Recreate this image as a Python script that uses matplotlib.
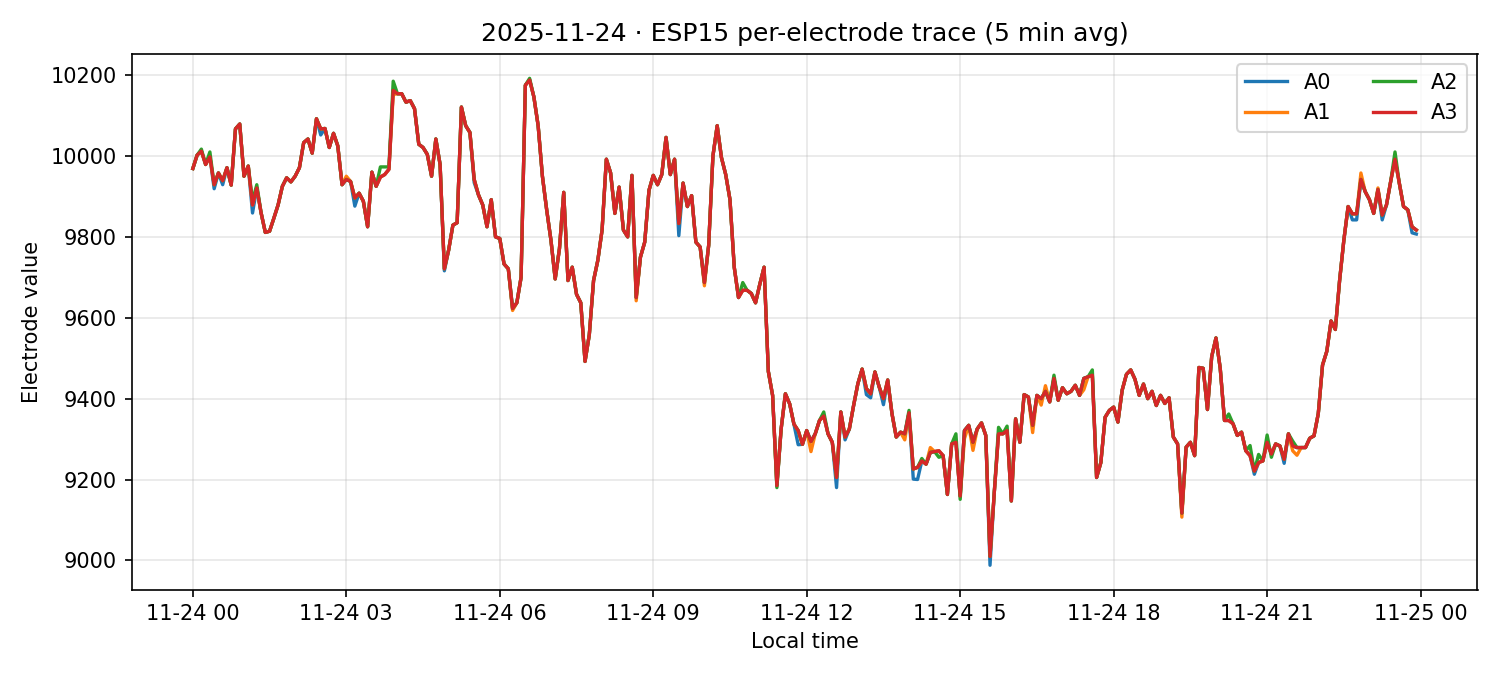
import numpy as np
import pandas as pd
import matplotlib
matplotlib.use("Agg")
import matplotlib.pyplot as plt
import matplotlib.dates as mdates

day = "2025-11-24"
device = "ESP15"
channels = ["A0", "A1", "A2", "A3"]

# A3 trace, one value per 5 min bucket (00:00 .. 23:55)
a3 = [
    9969, 10002, 10012, 9979, 9998, 9929, 9958, 9939, 9971, 9928,
    10067, 10079, 9950, 9975, 9879, 9921, 9860, 9811, 9814, 9846,
    9879, 9925, 9946, 9936, 9950, 9971, 10033, 10042, 10007, 10092,
    10067, 10068, 10021, 10056, 10025, 9929, 9942, 9937, 9896, 9908,
    9888, 9825, 9960, 9925, 9948, 9954, 9967, 10162, 10154, 10154,
    10133, 10137, 10117, 10029, 10021, 10004, 9950, 10042, 9979, 9721,
    9767, 9829, 9835, 10121, 10075, 10058, 9942, 9904, 9879, 9825,
    9892, 9800, 9796, 9733, 9721, 9623, 9637, 9700, 10175, 10188,
    10146, 10075, 9950, 9867, 9792, 9696, 9771, 9910, 9692, 9725,
    9658, 9637, 9492, 9558, 9692, 9742, 9817, 9992, 9958, 9858,
    9923, 9817, 9800, 9952, 9650, 9750, 9787, 9915, 9952, 9929,
    9954, 10046, 9954, 9992, 9833, 9933, 9875, 9902, 9787, 9775,
    9687, 9779, 10000, 10075, 9996, 9954, 9892, 9725, 9650, 9668,
    9668, 9660, 9637, 9683, 9725, 9467, 9408, 9185, 9325, 9412,
    9387, 9337, 9321, 9287, 9321, 9294, 9313, 9346, 9357, 9313,
    9292, 9205, 9367, 9305, 9325, 9383, 9437, 9473, 9425, 9412,
    9466, 9429, 9400, 9446, 9363, 9305, 9317, 9313, 9365, 9226,
    9230, 9246, 9238, 9267, 9269, 9271, 9259, 9163, 9288, 9292,
    9159, 9321, 9334, 9292, 9325, 9340, 9309, 9010, 9168, 9313,
    9313, 9321, 9147, 9350, 9292, 9410, 9404, 9334, 9408, 9400,
    9418, 9392, 9450, 9396, 9427, 9412, 9418, 9433, 9408, 9450,
    9454, 9458, 9205, 9242, 9354, 9371, 9379, 9342, 9421, 9460,
    9471, 9448, 9408, 9436, 9400, 9418, 9383, 9408, 9388, 9402,
    9305, 9288, 9117, 9280, 9292, 9259, 9477, 9475, 9373, 9504,
    9550, 9475, 9346, 9346, 9338, 9309, 9317, 9271, 9259, 9221,
    9242, 9246, 9292, 9263, 9288, 9283, 9250, 9313, 9283, 9279,
    9279, 9279, 9302, 9308, 9363, 9483, 9517, 9592, 9571, 9692,
    9792, 9875, 9857, 9857, 9942, 9912, 9892, 9858, 9917, 9854,
    9879, 9938, 9992, 9933, 9875, 9867, 9825, 9817,
]

# where the other electrodes visibly leave the A3 trace: {bucket: difference}
a0_diff = {5: -10, 7: -10, 14: -20, 30: -15, 38: -20, 59: -5, 66: -8, 114: -30,
           142: -35, 151: -25, 153: -7, 158: -15, 159: -10, 162: -15, 169: -25,
           170: -30, 187: -22, 249: -8, 256: -10, 272: -15, 273: -15, 279: -12,
           286: -15, 287: -10}
a1_diff = {36: 8, 47: -10, 75: -5, 104: -8, 120: -8, 145: -25, 167: -15, 173: 12,
           181: -20, 183: -20, 197: -18, 199: -16, 200: 14, 209: -28, 232: -10,
           258: -12, 259: -19, 274: 16, 278: 4}
a2_diff = {2: 5, 4: 12, 14: 10, 15: 8, 44: 25, 45: 19, 46: 6, 47: 23, 79: 4,
           129: 19, 137: -5, 148: 10, 168: 6, 171: 6, 175: -16, 179: 21, 180: -8,
           189: 16, 191: 11, 202: 8, 211: 13, 243: 16, 248: 25, 250: 20, 252: 18,
           253: -8, 258: 12, 282: 18}


def with_diff(base, diff):
    vals = list(base)
    for i, d in diff.items():
        vals[i] += d
    return vals


times = pd.date_range(day, periods=len(a3), freq="5min")
series = {
    "A0": with_diff(a3, a0_diff),
    "A1": with_diff(a3, a1_diff),
    "A2": with_diff(a3, a2_diff),
    "A3": a3,
}

fig, ax = plt.subplots(figsize=(10, 4.5), dpi=150)
for ch in channels:
    ax.plot(times, series[ch], label=ch, linewidth=1.6)

ax.set_title(f"{day} · {device} per-electrode trace (5 min avg)")
ax.set_xlabel("Local time")
ax.set_ylabel("Electrode value")
ax.xaxis.set_major_locator(mdates.HourLocator(byhour=range(0, 24, 3)))
ax.xaxis.set_major_formatter(mdates.DateFormatter("%m-%d %H"))
ax.grid(True, alpha=0.3)
ax.legend(ncol=2, loc="upper right")

fig.tight_layout()
fig.savefig("out.png")
